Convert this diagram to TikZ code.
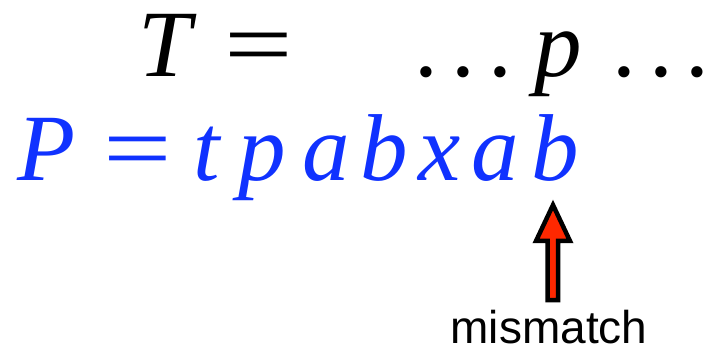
\documentclass[tikz,border=0pt]{standalone}
\usepackage{fontspec}
\newfontfamily\serifit{LiberationSerif-Italic.ttf}
\newfontfamily\serifup{LiberationSerif-Regular.ttf}
\newfontfamily\labelsans{LiberationSans-Regular.ttf}
\definecolor{patblue}{RGB}{16,50,255}
\definecolor{arrred}{RGB}{255,40,0}
\begin{document}
\begin{tikzpicture}[x=1pt,y=-1pt,
  big/.style={inner sep=0pt,outer sep=0pt,anchor=base,font=\serifit\fontsize{95}{95}\selectfont},
  bigup/.style={inner sep=0pt,outer sep=0pt,anchor=base,font=\serifup\fontsize{95}{95}\selectfont},
  eqsign/.style={bigup,xscale=1.28},
  pat/.style={big,text=patblue},
  patup/.style={eqsign,text=patblue}]
\useasboundingbox (0,0) rectangle (713,350);
% text row
\node[big] (T) at (165,77) {T};
\node[eqsign] (teq) at (259,77) {=};
\node[bigup] (d1) at (426,77) {.};
\node[bigup] (d2) at (463,77) {.};
\node[bigup] (d3) at (500,77) {.};
\node[big] (tp) at (558,77) {p};
\node[bigup] (d4) at (624,77) {.};
\node[bigup] (d5) at (661,77) {.};
\node[bigup] (d6) at (697,77) {.};
% pattern row
\node[pat] (P) at (47,181) {P};
\node[patup] (peq) at (138,181) {=};
\node[pat] (c1) at (207,181) {t};
\node[pat] (c2) at (262,181) {p};
\node[pat] (c3) at (326,181) {a};
\node[pat] (c4) at (384,181) {b};
\node[pat] (c5) at (440,181) {x};
\node[pat] (c6) at (495,181) {a};
\node[pat] (c7) at (555,181) {b};
% mismatch label and arrow
\node[inner sep=0pt,anchor=base,font=\labelsans\fontsize{46}{46}\selectfont] (mm) at (549,343) {mismatch};
\draw[line width=4.5pt,line join=miter,fill=arrred,draw=black]
  (553,205) -- (570,241) -- (558,241) -- (558,300) -- (547.5,300) -- (547.5,241) -- (536,241) -- cycle;
\end{tikzpicture}
\end{document}
